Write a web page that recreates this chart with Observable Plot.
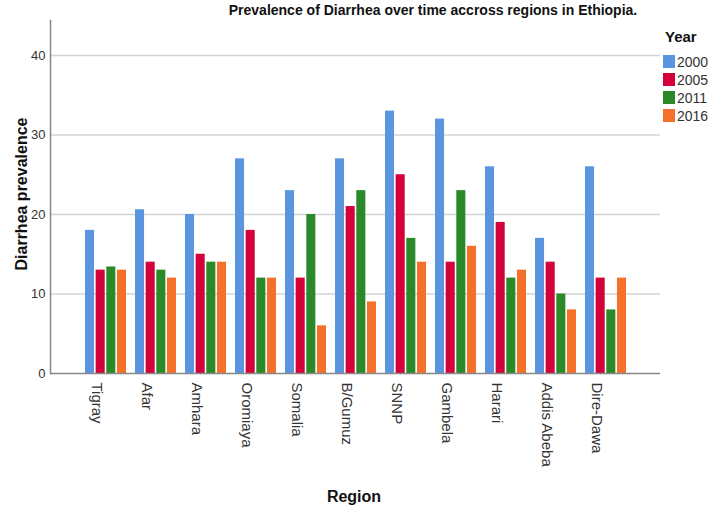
<!DOCTYPE html>
<html>
<head>
<meta charset="utf-8">
<script src="https://cdn.jsdelivr.net/npm/d3@7"></script>
<script src="https://cdn.jsdelivr.net/npm/@observablehq/plot@0.6"></script>
<style>
  html, body { margin: 0; padding: 0; background: #fff; }
  #wrap { position: relative; width: 709px; height: 511px; font-family: "Liberation Sans", Arial, sans-serif; }
  #wrap svg { position: absolute; left: 0; top: 0; }
  .ov { position: absolute; white-space: nowrap; color: #111; }
  .b { font-weight: bold; }
</style>
</head>
<body>
<div id="wrap"></div>
<script>
const regions = ["Tigray","Afar","Amhara","Oromiaya","Somalia","B/Gumuz","SNNP","Gambela","Harari","Addis Abeba","Dire-Dawa"];
const years = ["2000","2005","2011","2016"];
const v2000 = [18, 20.6, 20, 27, 23, 27, 33, 32, 26, 17, 26];
const v2005 = [13, 14, 15, 18, 12, 21, 25, 14, 19, 14, 12];
const v2011 = [13.4, 13, 14, 12, 20, 23, 17, 23, 12, 10, 8];
const v2016 = [13, 12, 14, 12, 6, 9, 14, 16, 13, 8, 12];
const yTicks = [0, 10, 20, 30, 40];
const colors = ["#5a95e0", "#d3003a", "#2a8a2a", "#f5712b"];

const series = [v2000, v2005, v2011, v2016];
const data = years.map((yr, i) => regions.map((r, j) => ({region: r, year: yr, value: series[i][j]})));

const W = 709, H = 511;
const mL = 50, mR = 49, mT = 20, mB = 138;
const pInner = 0.188, pOuter = 0.634;
const outer = d3.scaleBand().domain(regions).range([mL, W - mR]).paddingInner(pInner).paddingOuter(pOuter);
const bw = outer.bandwidth();
const inner = d3.scaleBand().domain(years).range([0, bw]).paddingInner(0.15).paddingOuter(0);

const barMarks = years.map((yr, i) => Plot.barY(data[i], {
  x: "region", y: "value", fill: colors[i],
  insetLeft: inner(yr),
  insetRight: bw - inner(yr) - inner.bandwidth()
}));

const chart = Plot.plot({
  width: W, height: H,
  marginLeft: mL, marginRight: mR, marginTop: mT, marginBottom: mB,
  style: {fontFamily: '"Liberation Sans", Arial, sans-serif', background: "transparent"},
  x: {type: "band", domain: regions, paddingInner: pInner, paddingOuter: pOuter, align: 0.5},
  y: {domain: [0, 44.4]},
  marks: [
    Plot.gridY(yTicks.filter(d => d > 0), {stroke: "#d4d4d4", strokeOpacity: 1, strokeWidth: 1.5}),
    ...barMarks,
    Plot.ruleY([0], {stroke: "#888", strokeWidth: 1.5}),
    Plot.frame({anchor: "left", stroke: "#888", strokeWidth: 1.5}),
    Plot.axisY(yTicks, {tickSize: 0, tickPadding: 5, fontSize: 13, fill: "#333", label: null}),
    Plot.axisX({tickSize: 0, tickPadding: 9, tickRotate: 90, fontSize: 15, fill: "#333", dx: -9, label: null})
  ]
});

const wrap = document.getElementById("wrap");
wrap.appendChild(chart);

function ov(text, css, cls) {
  const d = document.createElement("div");
  d.className = "ov " + (cls || "");
  d.textContent = text;
  Object.assign(d.style, css);
  wrap.appendChild(d);
  return d;
}
ov("Prevalence of Diarrhea over time accross regions in Ethiopia.", {left: "433px", top: "2px", transform: "translateX(-50%)", fontSize: "14px"}, "b");
ov("Diarrhea prevalence", {left: "22px", top: "194px", transform: "translate(-50%,-50%) rotate(-90deg)", fontSize: "16px"}, "b");
ov("Region", {left: "354px", top: "497px", transform: "translate(-50%,-50%)", fontSize: "16px"}, "b");
ov("Year", {left: "665px", top: "28px", fontSize: "15px"}, "b");
years.forEach((yr, i) => {
  const top = 55 + i * 18;
  const s = document.createElement("div");
  Object.assign(s.style, {position: "absolute", left: "663px", top: top + "px", width: "12px", height: "13px", background: colors[i]});
  wrap.appendChild(s);
  ov(yr, {left: "677px", top: (top - 1) + "px", fontSize: "14px", color: "#333"});
});
</script>
</body>
</html>
